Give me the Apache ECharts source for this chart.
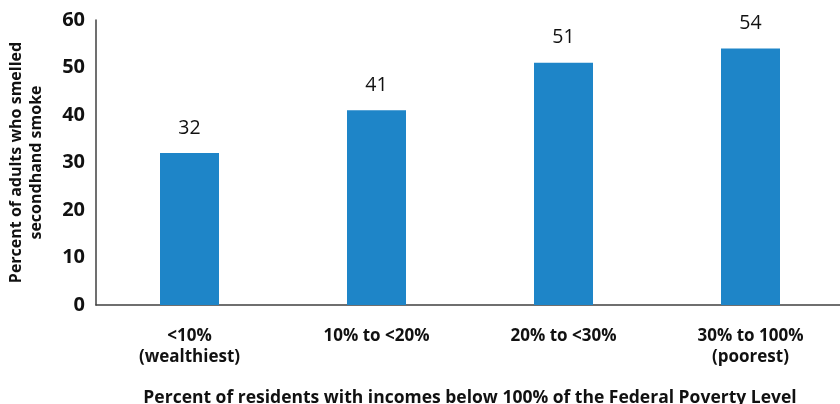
<!DOCTYPE html>
<html><head><meta charset="utf-8">
<script src="https://cdn.jsdelivr.net/npm/echarts@6/dist/echarts.min.js"></script>
<style>html,body{margin:0;padding:0;background:#fff}#c{width:840px;height:404px}</style>
</head><body><div id="c"></div>
<script>
const categories = ['<10%\n(wealthiest)', '10% to <20%', '20% to <30%', '30% to 100%\n(poorest)'];
const values = [32, 41, 51, 54];
const yTicks = [0, 10, 20, 30, 40, 50, 60];
const yTitle = 'Percent of adults who smelled\nsecondhand smoke';
const xTitle = 'Percent of residents with incomes below 100% of the Federal Poverty Level';

const chart = echarts.init(document.getElementById('c'), null, {renderer: 'canvas'});
chart.setOption({
  animation: false,
  grid: {left: 96, right: -4, top: 20, bottom: 99, containLabel: false, outerBoundsMode: 'none'},
  xAxis: {
    type: 'category', data: categories,
    axisLine: {show: true, lineStyle: {color: '#404040', width: 1.5}},
    axisTick: {show: false},
    axisLabel: {margin: 21, fontFamily: 'Open Sans', fontWeight: 'bold', fontSize: 17, color: '#111', lineHeight: 21},
    name: xTitle, nameLocation: 'middle', nameGap: 84,
    nameTextStyle: {fontFamily: 'Open Sans', fontWeight: 'bold', fontSize: 17.5, color: '#111'}
  },
  yAxis: {
    type: 'value', min: yTicks[0], max: yTicks[yTicks.length - 1], interval: 10,
    splitLine: {show: false},
    axisLine: {show: true, lineStyle: {color: '#404040', width: 1.5}},
    axisTick: {show: false},
    axisLabel: {margin: 11, fontFamily: 'Open Sans', fontWeight: 'bold', fontSize: 20, color: '#111'},
    name: yTitle, nameLocation: 'middle', nameGap: 50, nameRotate: 90,
    nameTextStyle: {fontFamily: 'Open Sans', fontWeight: 'bold', fontSize: 16, color: '#111', lineHeight: 20}
  },
  series: [{
    type: 'bar', data: values, barWidth: 59,
    itemStyle: {color: '#1e85c8'},
    label: {show: true, position: 'top', distance: 15, fontFamily: 'Open Sans', fontSize: 19.5, color: '#111'}
  }]
});
</script></body></html>
